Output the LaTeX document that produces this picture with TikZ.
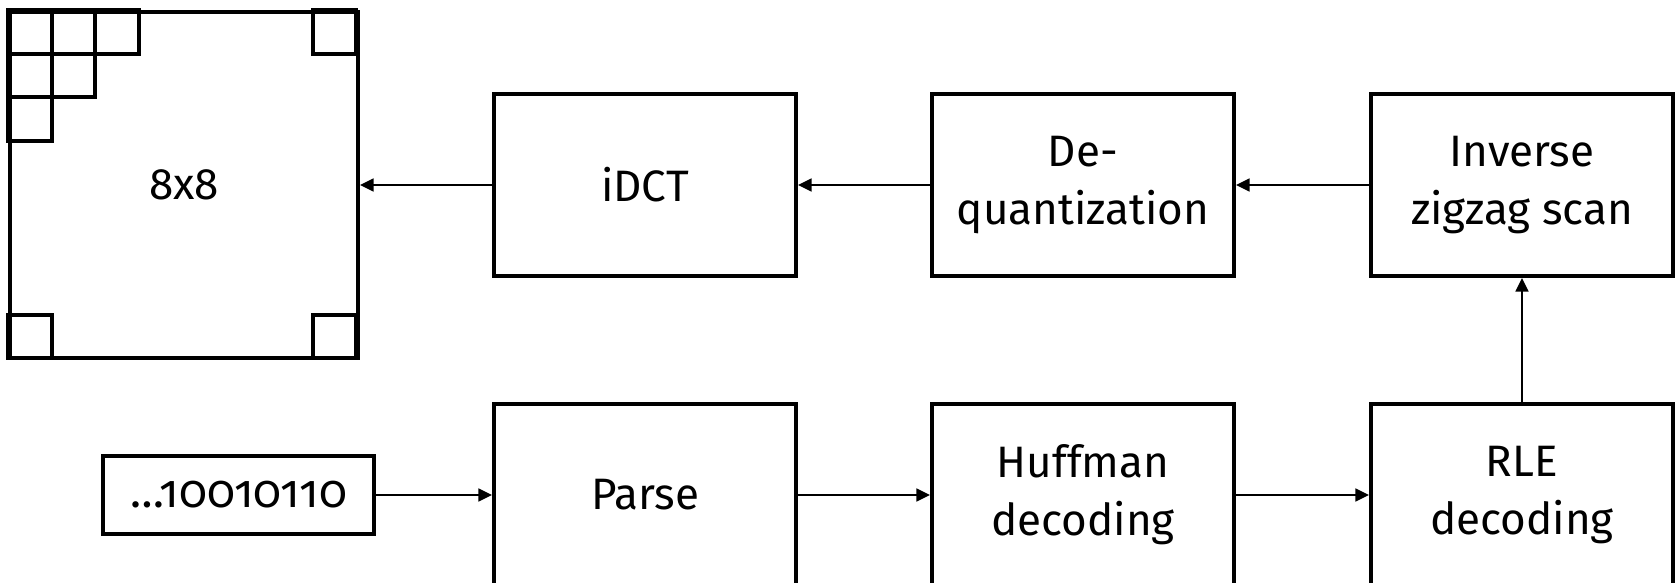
\documentclass[tikz,border=0pt]{standalone}
\usepackage{fontspec}
\setmainfont{Fira Sans}
\newfontfamily\bitfont[Numbers=OldStyle]{Fira Sans}
\usetikzlibrary{arrows.meta,positioning}
\tikzset{box/.style={draw,line width=1pt,align=center,minimum width=75.5pt,minimum height=45.5pt,inner sep=0pt},
  cell/.style={line width=1pt},
  arr/.style={-{Triangle[length=3.4pt,width=3.2pt]},line width=0.55pt}}

\begin{document}
\begin{tikzpicture}[x=0.25pt,y=-0.25pt,font=\fontsize{11}{14.5}\selectfont]
\useasboundingbox (0,0) rectangle (1680,582);
\clip (0,0) rectangle (1680,582);
% 8x8 block with a few of its cells
\node[box,minimum width=87pt,minimum height=86.5pt] (blk) at (184,185) {8x8};
\foreach \i/\j in {0/0,1/0,2/0,0/1,1/1,0/2,7/0,0/7,7/7}
  \draw[cell,shift={(blk.north west)}] (\i*43.5,\j*43.5) rectangle ++(43.5,43.5);
% top row
\node[box] (idct) at (645,185) {iDCT};
\node[box] (deq) at (1083,185) {De-\\quantization};
\node[box] (izz) at (1522,185) {Inverse\\zigzag scan};
% bottom row
\node[box,minimum width=67.75pt,minimum height=19.5pt] (bits) at (238.5,495) {\bitfont\fontsize{11.5}{14}\selectfont …10010110};
\node[box] (parse) at (645,495) {Parse};
\node[box] (huff) at (1083,495) {Huffman\\decoding};
\node[box] (rle) at (1522,495) {RLE\\decoding};
\draw[arr] (bits) -- (parse);
\draw[arr] (parse) -- (huff);
\draw[arr] (huff) -- (rle);
\draw[arr] (rle) -- (izz);
\draw[arr] (izz) -- (deq);
\draw[arr] (deq) -- (idct);
\draw[arr] (idct) -- (blk);
\end{tikzpicture}
\end{document}
